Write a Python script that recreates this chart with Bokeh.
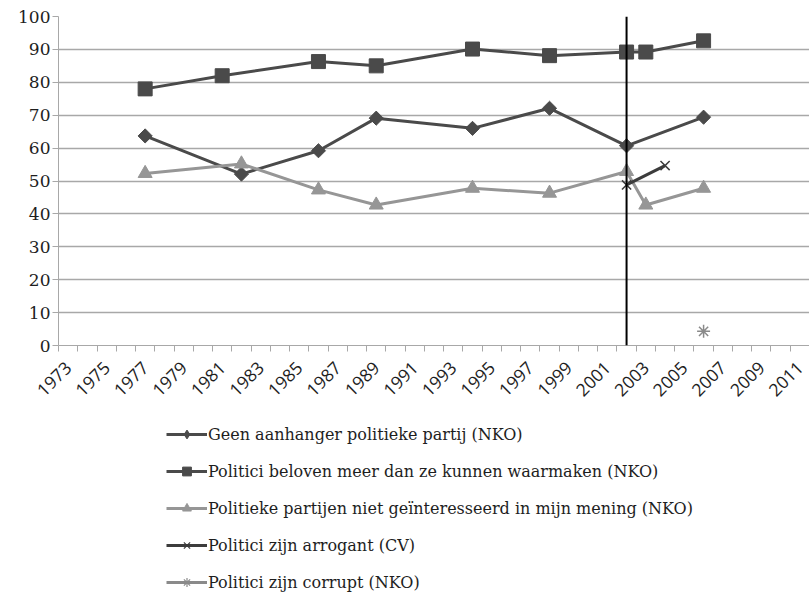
import math
import numpy as np
from bokeh.plotting import figure
from bokeh.layouts import column
from bokeh.models import FixedTicker, Legend, LegendItem, Span, Range1d
from bokeh.embed import file_html
from bokeh.resources import INLINE

# ---- data ----
years_geen = [1977, 1982, 1986, 1989, 1994, 1998, 2002, 2006]
geen_aanhanger = [63.7, 52.1, 59.2, 69.1, 66.0, 72.1, 60.7, 69.4]

years_beloven = [1977, 1981, 1986, 1989, 1994, 1998, 2002, 2003, 2006]
beloven = [78.0, 82.0, 86.3, 85.0, 90.1, 88.1, 89.2, 89.2, 92.6]

years_partijen = [1977, 1982, 1986, 1989, 1994, 1998, 2002, 2003, 2006]
partijen = [52.3, 55.2, 47.3, 42.7, 47.8, 46.3, 52.9, 42.7, 47.8]

years_arrogant = [2002, 2004]
arrogant = [48.8, 54.7]

years_corrupt = [2006]
corrupt = [4.3]

election_year = 2002

x_tick_years = list(range(1973, 2012, 2))
x_boundaries = [y + 0.5 for y in range(1972, 2012)]
y_ticks = list(range(0, 101, 10))

labels = [
    "Geen aanhanger politieke partij (NKO)",
    "Politici beloven meer dan ze kunnen waarmaken (NKO)",
    "Politieke partijen niet geïnteresseerd in mijn mening (NKO)",
    "Politici zijn arrogant (CV)",
    "Politici zijn corrupt (NKO)",
]

DARK = "#4a4a4a"
LIGHT = "#969696"
ARRO = "#3c3c3c"
CORR = "#8a8a8a"
GRID = "#a8a8a8"
TXT = "#1e1e1e"

p = figure(width=809, height=420, output_backend="svg", toolbar_location=None,
           x_range=Range1d(1972.5, 2011.5), y_range=Range1d(0, 100),
           min_border_left=58, min_border_right=0, min_border_top=16,
           min_border_bottom=75)
p.outline_line_color = None
p.background_fill_color = "white"
p.border_fill_color = "white"
p.xgrid.visible = False
p.ygrid.grid_line_color = GRID
p.ygrid.grid_line_width = 1.3
p.ygrid.ticker = FixedTicker(ticks=y_ticks)

# axes
p.yaxis.ticker = FixedTicker(ticks=y_ticks)
p.yaxis.axis_line_color = GRID
p.yaxis.major_tick_line_color = GRID
p.yaxis.major_tick_out = 6
p.yaxis.major_tick_in = 0
p.yaxis.minor_tick_line_color = None
p.yaxis.major_label_text_font = "DejaVu Serif"
p.yaxis.major_label_text_font_size = "17px"
p.yaxis.major_label_text_color = TXT
p.yaxis.major_label_standoff = 2

p.xaxis.ticker = FixedTicker(ticks=x_tick_years, minor_ticks=x_boundaries)
p.xaxis.axis_line_color = GRID
p.xaxis.major_tick_line_color = None
p.xaxis.major_tick_out = 0
p.xaxis.major_tick_in = 0
p.xaxis.minor_tick_line_color = GRID
p.xaxis.minor_tick_out = 6
p.xaxis.minor_tick_in = 0
p.xaxis.major_label_orientation = math.pi / 4
p.xaxis.major_label_text_font = "Open Sans"
p.xaxis.major_label_text_font_size = "17.5px"
p.xaxis.major_label_text_color = TXT
p.xaxis.major_label_standoff = 13

# series
p.line(years_geen, geen_aanhanger, line_color=DARK, line_width=3)
p.scatter(years_geen, geen_aanhanger, marker="square", angle=math.pi / 4, size=10,
          fill_color=DARK, line_color=DARK)

p.line(years_beloven, beloven, line_color=DARK, line_width=3)
p.scatter(years_beloven, beloven, marker="square", size=14, fill_color=DARK, line_color=DARK)

p.line(years_partijen, partijen, line_color=LIGHT, line_width=3)
p.scatter(years_partijen, partijen, marker="triangle", size=14, fill_color=LIGHT, line_color=LIGHT)

p.line(years_arrogant, arrogant, line_color=ARRO, line_width=3)
p.scatter(years_arrogant, arrogant, marker="x", size=13, line_color=ARRO, line_width=1.5)

p.line(years_corrupt, corrupt, line_color=CORR, line_width=3)
p.scatter(years_corrupt, corrupt, marker="asterisk", size=13, line_color=CORR, line_width=1.5)

p.add_layout(Span(location=election_year, dimension="height", line_color="black", line_width=2))

# ---- legend panel below ----
lg = figure(width=809, height=173, output_backend="svg", toolbar_location=None,
            x_range=Range1d(0, 1), y_range=Range1d(0, 1),
            min_border_left=0, min_border_right=0, min_border_top=0, min_border_bottom=0)
lg.axis.visible = False
lg.grid.visible = False
lg.outline_line_color = None
lg.background_fill_color = "white"
lg.border_fill_color = "white"

NAN = np.array([np.nan])


def proxy(color, marker, fill=True, lw=1.0):
    l = lg.line(x=NAN, y=NAN, line_color=color, line_width=3)
    s = lg.scatter(x=NAN, y=NAN, marker=marker,
                   fill_color=color if fill else None, line_color=color, line_width=lw)
    return [l, s]


items = [
    LegendItem(label=labels[0], renderers=proxy(DARK, "diamond")),
    LegendItem(label=labels[1], renderers=proxy(DARK, "square")),
    LegendItem(label=labels[2], renderers=proxy(LIGHT, "triangle")),
    LegendItem(label=labels[3], renderers=proxy(ARRO, "x", False, lw=1.2)),
    LegendItem(label=labels[4], renderers=proxy(CORR, "asterisk", False, lw=1.2)),
]
legend = Legend(items=items, location=(108, 0), orientation="vertical",
                glyph_width=41, glyph_height=22, label_height=16, label_width=10,
                spacing=15, padding=0, margin=0, label_standoff=1,
                border_line_color=None, background_fill_alpha=0,
                label_text_font="DejaVu Serif", label_text_font_size="16px",
                label_text_color=TXT, label_text_baseline="middle")
lg.add_layout(legend, "center")

layout = column(p, lg, spacing=0)
open("out.html", "w").write(file_html(layout, INLINE))
